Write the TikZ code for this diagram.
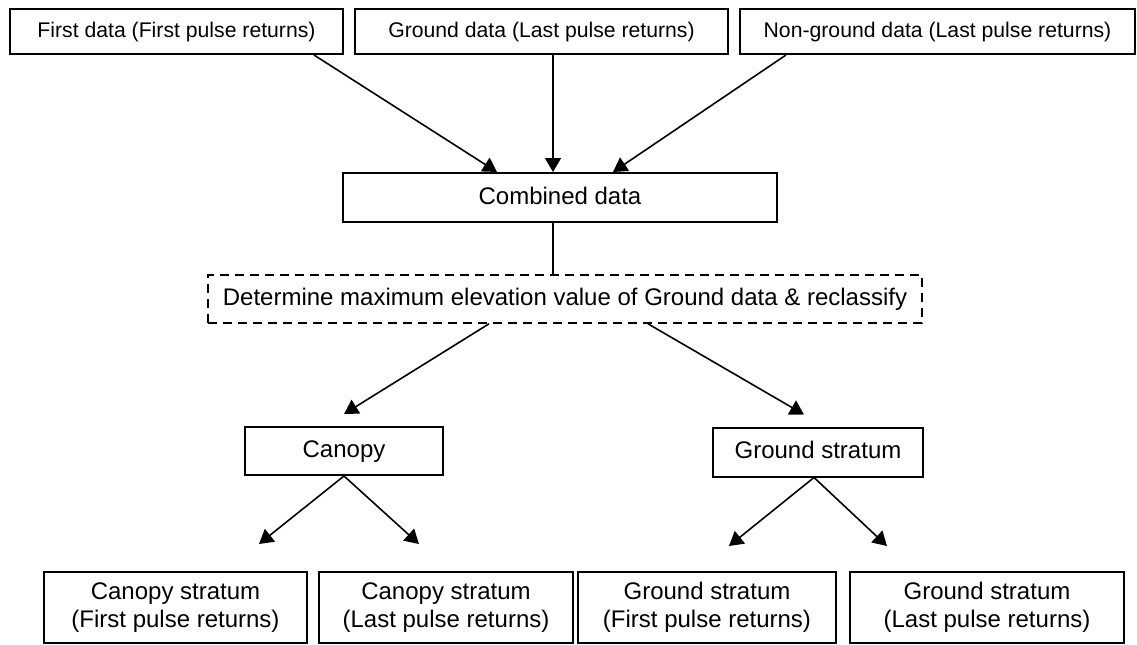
\documentclass[tikz,border=0pt]{standalone}
\usepackage{fontspec}
\setmainfont{Liberation Sans}
\usetikzlibrary{arrows.meta}

\begin{document}
\begin{tikzpicture}[x=0.5pt,y=-0.5pt,
        box/.style={draw,line width=1pt,inner sep=0pt,align=center,
            font=\fontsize{12}{13.8}\selectfont},
        onebox/.style={box,text height=9pt,text depth=2.5pt},
        topbox/.style={box,minimum height=22.5pt,text height=8pt,text depth=2.2pt,
            font=\fontsize{10.6}{12.5}\selectfont},
        dashbox/.style={onebox,dash pattern=on 4.5pt off 3pt,line width=0.8pt},
        arr/.style={line width=0.8pt,-{Triangle[length=7pt,width=8pt]}}]
        \useasboundingbox (0,0) rectangle (1137,644);
        \node[topbox,minimum width=166.5pt] (first) at (176.5,31.5) {First data (First pulse returns)};
        \node[topbox,minimum width=186.5pt] (ground) at (541.5,31.5) {Ground data (Last pulse returns)};
        \node[topbox,minimum width=197.5pt] (nonground) at (937.5,31.5) {Non-ground data (Last pulse returns)};
        \node[onebox,minimum width=217pt,minimum height=24.5pt] (combined) at (560,197.5) {Combined data};
        \node[dashbox,minimum width=357pt,minimum height=24pt] (determine) at (565,299)
            {Determine maximum elevation value of Ground data \& reclassify};
        \node[onebox,minimum width=99pt,minimum height=24pt] (canopy) at (344,451) {Canopy};
        \node[onebox,minimum width=105pt,minimum height=24.5pt] (gstratum) at (818,452) {Ground stratum};
        \node[box,minimum width=131.5pt,minimum height=35.5pt] (cfirst) at (175.5,607.5) {Canopy stratum\\(First pulse returns)};
        \node[box,minimum width=127pt,minimum height=35.5pt] (clast) at (446,607.5) {Canopy stratum\\(Last pulse returns)};
        \node[box,minimum width=129pt,minimum height=35.5pt] (gfirst) at (707,607.5) {Ground stratum\\(First pulse returns)};
        \node[box,minimum width=137pt,minimum height=35.5pt] (glast) at (987,607.5) {Ground stratum\\(Last pulse returns)};
        \draw[arr] ([xshift=-15pt]first.south east) -- ([xshift=-31.5pt]combined.north);
        \draw[arr] ([xshift=5.75pt]ground.south) -- ([xshift=-3.5pt]combined.north);
        \draw[arr] ([xshift=23.5pt]nonground.south west) -- ([xshift=26.5pt]combined.north);
        \draw[line width=0.8pt] ([xshift=-3.5pt]combined.south) -- ([xshift=-3.5pt]combined.south |- determine.north);
        \draw[arr] ([xshift=-38pt]determine.south) -- ([yshift=6pt]canopy.north);
        \draw[arr] ([xshift=41.5pt]determine.south) -- ([xshift=-7pt,yshift=6pt]gstratum.north);
        \draw[arr] (canopy.south) -- ([xshift=41.75pt,yshift=13.5pt]cfirst.north);
        \draw[arr] (canopy.south) -- ([xshift=-13.5pt,yshift=13.5pt]clast.north);
        \draw[arr] ([xshift=-2pt]gstratum.south) -- ([xshift=11pt,yshift=12.5pt]gfirst.north);
        \draw[arr] ([xshift=-2pt]gstratum.south) -- ([xshift=-50pt,yshift=12.5pt]glast.north);
    \end{tikzpicture}
\end{document}
